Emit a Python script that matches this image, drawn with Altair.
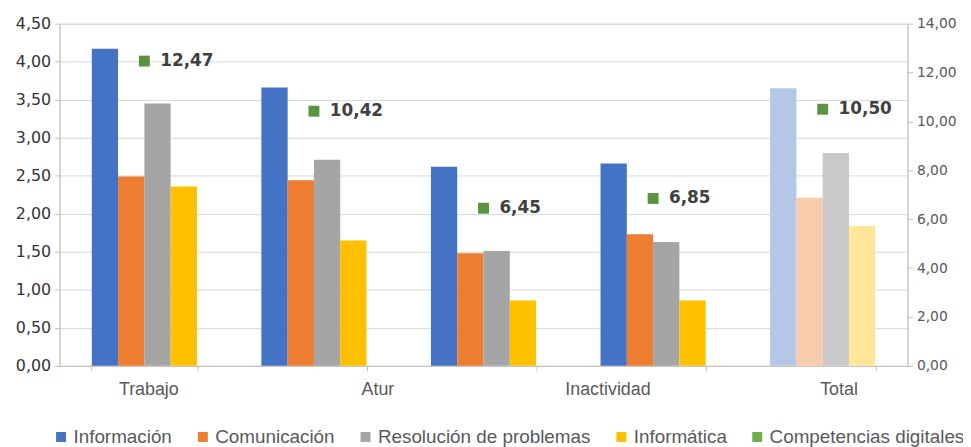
import altair as alt
import pandas as pd

grupos = ["g1", "g2", "g3", "g4", "g5"]
etiquetas = ["Trabajo", "Atur", "", "Inactividad", "Total"]
series = ["Información", "Comunicación", "Resolución de problemas", "Informática"]
informacion = [4.17, 3.66, 2.62, 2.66, 3.65]
comunicacion = [2.49, 2.44, 1.48, 1.73, 2.21]
resolucion = [3.45, 2.71, 1.51, 1.63, 2.80]
informatica = [2.36, 1.65, 0.86, 0.86, 1.84]
competencias = [12.47, 10.42, 6.45, 6.85, 10.50]
serie_total = "Competencias digitales"

colores = ["#4472C4", "#ED7D31", "#A5A5A5", "#FFC000"]
colores_claros = ["#B4C7E7", "#F8CBAD", "#C9C9C9", "#FFE699"]
color_total = "#70AD47"
color_marcador = "#5A9440"

rows = []
for s, vals in zip(series, [informacion, comunicacion, resolucion, informatica]):
    for g, v in zip(grupos, vals):
        key = s + " (Total)" if g == "g5" else s
        rows.append({"grupo": g, "serie": s, "clave": key, "valor": v})
bars_df = pd.DataFrame(rows)
pts_df = pd.DataFrame({"grupo": grupos, "valor": competencias})

domain = series + [serie_total] + [s + " (Total)" for s in series]
rng = colores + [color_total] + colores_claros

label_map = "{" + ",".join(f"'{g}':'{e}'" for g, e in zip(grupos, etiquetas)) + "}"
offsets = {"g1": 4, "g2": 64, "g4": -46, "g5": 16}
label_offset = {
    "condition": [{"test": f"datum.value == '{g}'", "value": o} for g, o in offsets.items()],
    "value": 0,
}

num_expr = "replace(format(datum.value, '.2f'), '.', ',')"

x = alt.X(
    "grupo:N",
    sort=grupos,
    title=None,
    scale=alt.Scale(paddingInner=0.38, paddingOuter=0.19),
    axis=alt.Axis(
        labelExpr=f"{label_map}[datum.value]",
        labelOffset=label_offset,
        labelAngle=0,
        labelFont="Liberation Sans",
        labelFontSize=18,
        labelColor="#595959",
        labelPadding=10,
        tickBand="extent",
        tickSize=5,
        tickColor="#BFBFBF",
        domainColor="#BFBFBF",
        grid=False,
    ),
)

bars = alt.Chart(bars_df).mark_bar().encode(
    x=x,
    xOffset=alt.XOffset("serie:N", sort=series, scale=alt.Scale(paddingInner=0, paddingOuter=0)),
    y=alt.Y(
        "valor:Q",
        title=None,
        scale=alt.Scale(domain=[0, 4.5], nice=False),
        axis=alt.Axis(
            values=[0, 0.5, 1, 1.5, 2, 2.5, 3, 3.5, 4, 4.5],
            labelExpr=num_expr,
            labelFont="DejaVu Sans",
            labelFontSize=16,
            labelColor="#333333",
            labelPadding=4,
            tickSize=5,
            tickColor="#BFBFBF",
            domainColor="#BFBFBF",
            gridColor="#D9D9D9",
            orient="left",
        ),
    ),
    color=alt.Color(
        "clave:N",
        scale=alt.Scale(domain=domain, range=rng),
        legend=alt.Legend(
            values=series + [serie_total],
            title=None,
            orient="none",
            direction="horizontal",
            legendX=-8,
            legendY=407,
            symbolType="square",
            symbolSize=100,
            symbolStrokeWidth=0,
            labelFont="Liberation Sans",
            labelFontSize=19,
            labelColor="#595959",
            labelOffset=3,
            labelLimit=0,
            columnPadding=21,
        ),
    ),
)

y_right = alt.Y(
    "valor:Q",
    title=None,
    scale=alt.Scale(domain=[0, 14], nice=False),
    axis=alt.Axis(
        orient="right",
        values=[0, 2, 4, 6, 8, 10, 12, 14],
        labelExpr=num_expr,
        labelFont="DejaVu Sans",
        labelFontSize=14,
        labelColor="#595959",
        labelPadding=4,
        tickSize=5,
        tickColor="#BFBFBF",
        domainColor="#BFBFBF",
        grid=False,
    ),
)

pts_base = alt.Chart(pts_df).encode(x=alt.X("grupo:N", sort=grupos), y=y_right)
points = pts_base.mark_square(size=121, color=color_marcador, opacity=1)
texts = pts_base.transform_calculate(
    etiqueta="replace(format(datum.valor, '.2f'), '.', ',')"
).mark_text(
    align="left", baseline="middle", dx=16, font="DejaVu Sans", fontSize=17,
    fontWeight="bold", color="#404040"
).encode(text="etiqueta:N")

right = alt.layer(points, texts)

chart = alt.layer(bars, right).resolve_scale(y="independent").properties(
    width=855,
    height=345,
    autosize=alt.AutoSizeParams(type="none"),
    padding={"left": 52, "top": 14, "right": 56, "bottom": 80},
).configure_view(stroke=None).configure(background="white")

chart.save("out.html", embed_options={"renderer": "svg", "actions": False})
